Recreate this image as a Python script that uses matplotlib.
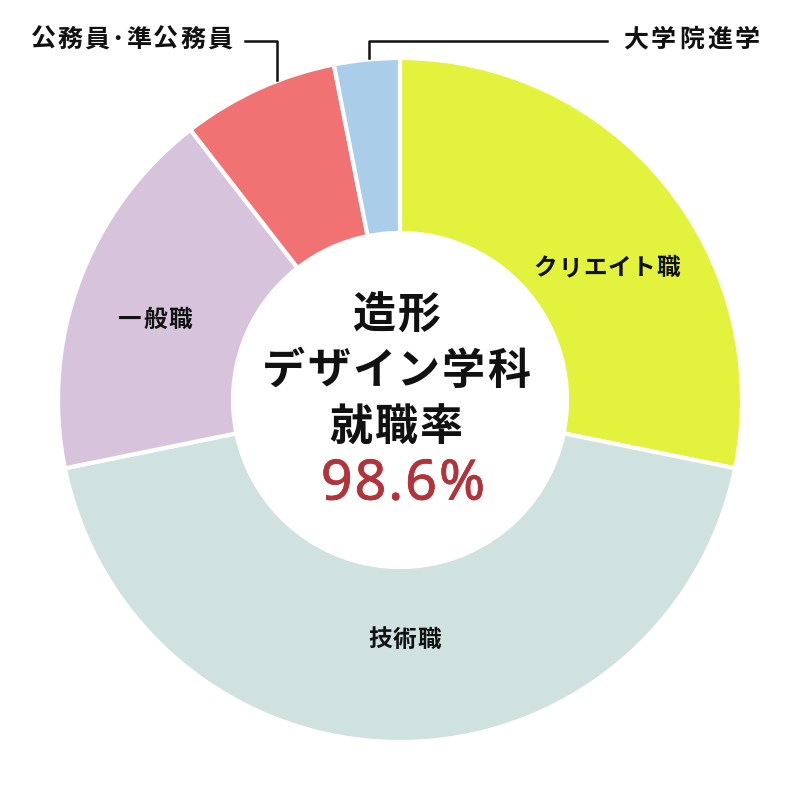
import matplotlib
matplotlib.use("Agg")
import matplotlib.pyplot as plt
import matplotlib.patheffects as pe

plt.rcParams['font.family'] = ['Noto Sans CJK JP', 'DejaVu Sans']

categories = ["クリエイト職", "技術職", "一般職", "公務員・準公務員", "大学院進学"]
values = [28.2, 43.6, 17.7, 7.4, 3.1]
colors = ["#E3F23D", "#CFE2E0", "#D7C4DC", "#F07272", "#AACEEA"]
center_title = ["造形", "デザイン学科", "就職率"]
rate_label = "98.6%"

fig = plt.figure(figsize=(8, 8), dpi=100)
ax = fig.add_axes([0, 0, 1, 1])

wedges, _ = ax.pie(values, colors=colors, startangle=90, counterclock=False,
                   center=(400, 400), radius=342, frame=True,
                   wedgeprops=dict(width=175, edgecolor='white', linewidth=3))
ax.set_xlim(0, 800)
ax.set_ylim(0, 800)
ax.set_aspect('equal')
ax.axis('off')

renderer = fig.canvas.get_renderer()


def spaced(x, y, s, size, spacing, ha='center', **kw):
    widths = []
    for ch in s:
        t = ax.text(0, 0, ch, fontsize=size, **kw)
        widths.append(t.get_window_extent(renderer).width)
        t.remove()
    total = sum(widths) + spacing * (len(s) - 1)
    if ha == 'center':
        x0 = x - total / 2
    elif ha == 'right':
        x0 = x - total
    else:
        x0 = x
    for ch, w in zip(s, widths):
        ax.text(x0, y, ch, fontsize=size, ha='left', va='center', **kw)
        x0 += w + spacing


lab = dict(fontweight='bold', color='#111111')
spaced(607, 800 - 268, categories[0], 17, 1, **lab)
spaced(405, 800 - 640, categories[1], 17, 1, **lab)
spaced(155, 800 - 320, categories[2], 17, 2, **lab)

# outside labels with leader lines
spaced(232, 800 - 40, categories[3].replace("・", "･"), 18, 2, ha='right', **lab)
ax.plot([245, 277, 277], [800 - 41, 800 - 41, 800 - 80], color='#111111', lw=1.8)
spaced(623, 800 - 40, categories[4], 18, 3, ha='left', **lab)
ax.plot([369, 369, 607], [800 - 58, 800 - 41, 800 - 41], color='#111111', lw=1.8)

# center text
ys = [316, 371, 427]
for t, y in zip(center_title, ys):
    spaced(396, 800 - y, t, 31, 2, fontweight='bold', color='#111111')
spaced(403, 800 - 485, rate_label, 40, 2, fontweight='normal', color='#B0343A',
       family=['Noto Sans', 'DejaVu Sans'],
       path_effects=[pe.withStroke(linewidth=0.6, foreground='#B0343A')])

fig.savefig("out.png", dpi=100, facecolor='white')
